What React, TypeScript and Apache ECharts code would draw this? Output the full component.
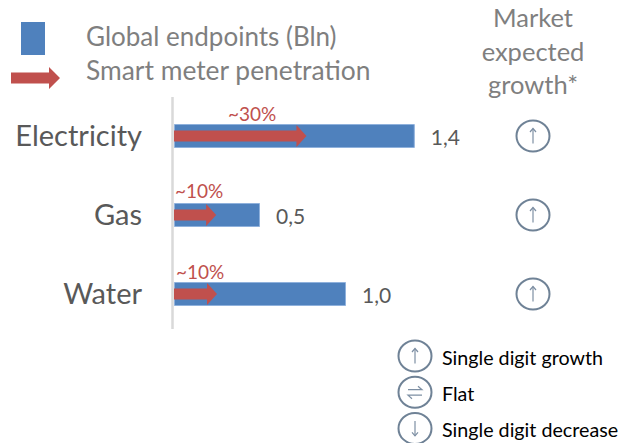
import React, { useEffect, useRef } from "react";
import * as echarts from "echarts";

const categories = ["Electricity", "Gas", "Water"];
const endpoints = [1.4, 0.5, 1.0];
const endpointLabels = ["1,4", "0,5", "1,0"];
const penetrationTips = [0.77, 0.245, 0.25];
const penetrationLabels = ["~30%", "~10%", "~10%"];
const growth = ["up", "up", "up"];
const seriesNames = ["Global endpoints (Bln)", "Smart meter penetration"];
const headerLines = ["Market", "expected", "growth*"];
const keyLabels = ["Single digit growth", "Flat", "Single digit decrease"];
const keyKinds = ["up", "flat", "down"];

const FONT = "Lato, Carlito, 'Open Sans', sans-serif";
const BLUE = "#4F81BD";
const RED = "#C0504D";
const GREY = "#7F7F7F";
const DARK = "#595959";
const ICON = "#6F8296";
const ICON_THIN = "#7D8FA3";
const GROWTH_X = 2.0872;
const LABEL_DX = [54, 1, 2];
const LABEL_DY = [-23, -25, -23];

function arrowPoints(x0: number, x1: number, y: number, headW: number, shaft: number, headH: number) {
  return [
    [x0, y - shaft / 2],
    [x1 - headW, y - shaft / 2],
    [x1 - headW, y - headH / 2],
    [x1, y],
    [x1 - headW, y + headH / 2],
    [x1 - headW, y + shaft / 2],
    [x0, y + shaft / 2],
  ];
}

function iconChildren(kind: string, cx: number, cy: number) {
  const ring = {
    type: "ellipse",
    shape: { cx, cy, rx: 16.5, ry: 15.5 },
    style: { fill: "#fff", stroke: ICON, lineWidth: 2 },
  };
  const line = (pts: number[][]) => ({
    type: "polyline",
    shape: { points: pts },
    style: { fill: "none", stroke: ICON_THIN, lineWidth: 1.2 },
  });
  if (kind === "up") {
    return [
      ring,
      line([[cx, cy + 7.5], [cx, cy - 7.5]]),
      line([[cx - 3, cy - 4], [cx, cy - 7.5], [cx + 3, cy - 4]]),
    ];
  }
  if (kind === "down") {
    return [
      ring,
      line([[cx, cy - 7.5], [cx, cy + 7.5]]),
      line([[cx - 3, cy + 4], [cx, cy + 7.5], [cx + 3, cy + 4]]),
    ];
  }
  return [
    ring,
    line([[cx - 7, cy - 2.5], [cx + 7, cy - 2.5], [cx + 3, cy - 6]]),
    line([[cx + 7, cy + 3], [cx - 7, cy + 3], [cx - 3, cy + 6.5]]),
  ];
}

export default function App() {
  const ref = useRef<HTMLDivElement>(null);
  useEffect(() => {
    const chart = echarts.init(ref.current!, undefined, { renderer: "svg" });
    const graphics: any[] = [
      { type: "rect", shape: { x: 21, y: 22, width: 24, height: 33 }, style: { fill: BLUE } },
      {
        type: "polygon",
        shape: { points: arrowPoints(11, 60, 78, 11, 11, 22) },
        style: { fill: RED },
      },
      {
        type: "text", x: 86, y: 36,
        style: { text: seriesNames[0], fill: GREY, font: `26px ${FONT}`, textVerticalAlign: "middle" },
      },
      {
        type: "text", x: 86, y: 70,
        style: { text: seriesNames[1], fill: GREY, font: `26.4px ${FONT}`, textVerticalAlign: "middle" },
      },
      {
        type: "line",
        shape: { x1: 172.5, y1: 97, x2: 172.5, y2: 329 },
        style: { stroke: "#D9D9D9", lineWidth: 2.5 },
      },
    ];
    headerLines.forEach((t, i) => {
      graphics.push({
        type: "text", x: 533, y: 17 + i * 33.5,
        style: { text: t, fill: GREY, font: `25.5px ${FONT}`, textAlign: "center", textVerticalAlign: "middle" },
      });
    });
    keyLabels.forEach((t, i) => {
      graphics.push({ type: "group", children: iconChildren(keyKinds[i], 415, 356 + i * 36.2) });
      graphics.push({
        type: "text", x: 442, y: 357 + i * 36,
        style: { text: t, fill: "#000", font: `19.7px ${FONT}`, textVerticalAlign: "middle" },
      });
    });
    chart.setOption({
      animation: false,
      grid: { left: 174, top: 96.5, width: 430, height: 237 },
      xAxis: { type: "value", min: 0, max: 2.5, show: false },
      yAxis: {
        type: "category",
        inverse: true,
        data: categories,
        axisLine: { show: false },
        axisTick: { show: false },
        axisLabel: {
          color: DARK,
          fontFamily: FONT,
          fontSize: 29,
          margin: 32,
          verticalAlign: "bottom",
          lineHeight: 4,
        },
      },
      series: [
        {
          name: seriesNames[0],
          type: "bar",
          data: endpoints,
          barWidth: 24,
          itemStyle: { color: BLUE, borderColor: "#8FB1DC", borderWidth: 1 },
          label: {
            show: true,
            position: "right",
            distance: 16,
            color: DARK,
            fontFamily: FONT,
            fontSize: 21,
            formatter: (p: any) => endpointLabels[p.dataIndex],
          },
        },
        {
          name: seriesNames[1],
          type: "custom",
          data: penetrationTips.map((v, i) => [v, i]),
          encode: { x: 0, y: 1 },
          z: 5,
          renderItem: (params: any, api: any) => {
            const i = params.dataIndex;
            const [x1, y] = api.coord([api.value(0), api.value(1)]);
            const [x0] = api.coord([0, api.value(1)]);
            return {
              type: "group",
              children: [
                {
                  type: "polygon",
                  shape: { points: arrowPoints(x0, x1, y, 10, 11, 22) },
                  style: { fill: RED },
                },
                {
                  type: "text",
                  x: x0 + LABEL_DX[i],
                  y: y + LABEL_DY[i],
                  style: {
                    text: penetrationLabels[i],
                    fill: RED,
                    font: `19px ${FONT}`,
                    textVerticalAlign: "middle",
                  },
                },
              ],
            };
          },
        },
        {
          name: "Market expected growth",
          type: "custom",
          data: growth.map((_, i) => [GROWTH_X, i]),
          encode: { x: 0, y: 1 },
          renderItem: (params: any, api: any) => {
            const [cx, cy] = api.coord([api.value(0), api.value(1)]);
            return { type: "group", children: iconChildren(growth[params.dataIndex], cx, cy) };
          },
        },
      ],
      graphic: graphics,
    });
    return () => chart.dispose();
  }, []);
  return <div ref={ref} style={{ position: "absolute", left: 0, top: 0, width: 621, height: 443 }} />;
}
